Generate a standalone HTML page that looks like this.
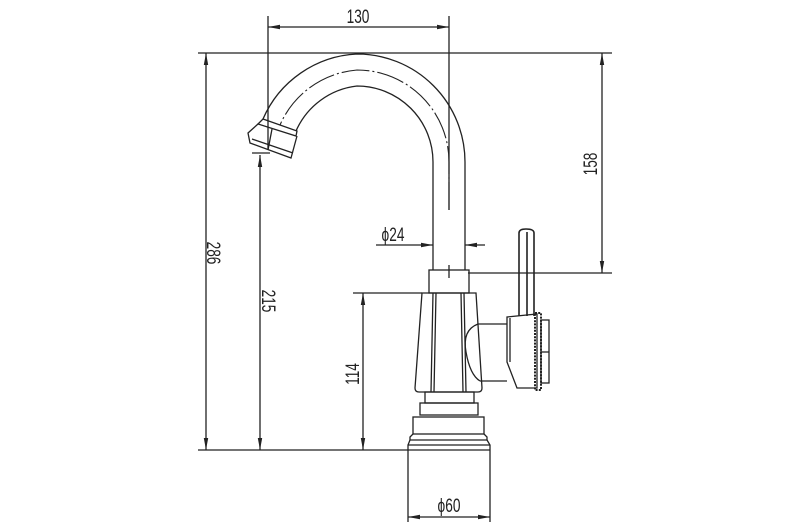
<!DOCTYPE html>
<html><head><style>
html,body{margin:0;padding:0;background:#fff;}
svg{display:block;}
text{font-family:"Liberation Sans",sans-serif;font-size:19px;fill:#222;}
</style></head><body>
<svg width="810" height="528" viewBox="0 0 810 528" xmlns="http://www.w3.org/2000/svg">
<defs>
<marker id="a" viewBox="0 0 12 6" refX="12" refY="3" markerWidth="12" markerHeight="6" orient="auto" markerUnits="userSpaceOnUse"><path d="M0,0.8 L12,3 L0,5.2z" fill="#222"/></marker>
</defs>
<g stroke="#222" stroke-width="1.3" fill="none">
<line x1="198" y1="53" x2="612" y2="53"/>
<line x1="198" y1="450" x2="490" y2="450"/>
<line x1="268" y1="16" x2="268" y2="150"/>
<line x1="449" y1="16" x2="449" y2="210"/>
<line x1="358" y1="27" x2="268" y2="27" marker-end="url(#a)"/>
<line x1="358" y1="27" x2="449" y2="27" marker-end="url(#a)"/>
<line x1="206" y1="252" x2="206" y2="53" marker-end="url(#a)"/>
<line x1="206" y1="252" x2="206" y2="450" marker-end="url(#a)"/>
<line x1="260" y1="300" x2="260" y2="155" marker-end="url(#a)"/>
<line x1="260" y1="300" x2="260" y2="450" marker-end="url(#a)"/>
<line x1="252" y1="153" x2="270" y2="153"/>
<line x1="363" y1="370" x2="363" y2="293" marker-end="url(#a)"/>
<line x1="363" y1="370" x2="363" y2="450" marker-end="url(#a)"/>
<line x1="353" y1="293" x2="422" y2="293"/>
<line x1="602" y1="160" x2="602" y2="53" marker-end="url(#a)"/>
<line x1="602" y1="160" x2="602" y2="273" marker-end="url(#a)"/>
<line x1="468" y1="273" x2="612" y2="273"/>
<line x1="376" y1="245" x2="433" y2="245" marker-end="url(#a)"/>
<line x1="485" y1="245" x2="465" y2="245" marker-end="url(#a)"/>
<line x1="449" y1="265" x2="449" y2="278"/>
<line x1="408" y1="450" x2="408" y2="522"/>
<line x1="490" y1="450" x2="490" y2="522"/>
<line x1="449" y1="517" x2="408" y2="517" marker-end="url(#a)"/>
<line x1="449" y1="517" x2="490" y2="517" marker-end="url(#a)"/>
<path d="M465,270 L465,162 A108,108 0 0 0 357,54 A108,108 0 0 0 263,119"/>
<path d="M433,270 L433,162 A76,76 0 0 0 357,86 A76,76 0 0 0 296,131"/>
<path d="M449,210 L449,162 A92,92 0 0 0 357,70 A92,92 0 0 0 280,125" stroke-dasharray="28,3,2,3" stroke-width="1.1"/>
<path d="M263,119 L297,131 L296,136 L258,124 Z"/>
<path d="M258,124 L248,133 L250,143 L291,158 L297,136"/>
<path d="M252,139 L293,153"/>
<line x1="272" y1="129" x2="268" y2="150"/>
<rect x="429" y="270" width="40" height="23"/>
<path d="M422,293 L476,293 L482,388 Q482,392 478,392 L419,392 Q415,392 415,388 Z"/>
<path d="M433,293 L431,392 M436,293 L434,392 M461,293 L463,392 M464,293 L466,392"/>
<path d="M478,324 Q462,330 466,352 Q470,375 480,381"/>
<path d="M478,324 L507,324 M480,381 L507,381"/>
<path d="M507,317 L537,314 L537,388 L517,388 L507,362 Z"/>
<line x1="510" y1="318" x2="510" y2="362"/>
<rect x="535" y="313" width="6" height="77" stroke-dasharray="2,1.2" stroke-width="2"/>
<rect x="541" y="320" width="8" height="63"/>
<line x1="541" y1="352" x2="549" y2="352"/>
<path d="M519,316 L519,233 Q519,229 526,229 Q534,229 534,233 L534,316" stroke-width="1.6"/>
<line x1="527" y1="232" x2="527" y2="316" stroke-width="1.6"/>
<rect x="425" y="392" width="49" height="11"/>
<rect x="420" y="403" width="58" height="12"/>
<rect x="413" y="417" width="71" height="17"/>
<path d="M413,434 L410,437 L410,440 L487,440 L487,437 L484,434"/>
<path d="M410,440 L408,445 L408,450 M487,440 L490,445 L490,450"/>
<line x1="408" y1="445" x2="490" y2="445"/>
</g>
<text transform="translate(358,23) scale(0.72,1)" text-anchor="middle">130</text>
<text transform="translate(207,253) rotate(90) scale(0.72,1)" text-anchor="middle">286</text>
<text transform="translate(262,301) rotate(90) scale(0.72,1)" text-anchor="middle">215</text>
<text transform="translate(359,374) rotate(-90) scale(0.72,1)" text-anchor="middle">114</text>
<text transform="translate(597,164) rotate(-90) scale(0.72,1)" text-anchor="middle">158</text>
<text transform="translate(393,241) scale(0.72,1)" text-anchor="middle">ϕ24</text>
<text transform="translate(449,512) scale(0.72,1)" text-anchor="middle">ϕ60</text>
</svg>
</body></html>
